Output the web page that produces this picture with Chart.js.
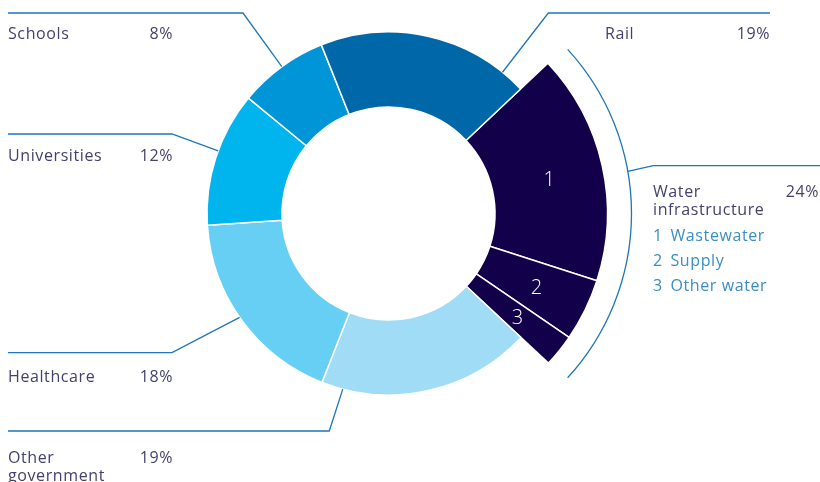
<!DOCTYPE html>
<html>
<head>
<meta charset="utf-8">
<script src="https://cdn.jsdelivr.net/npm/chart.js@4.4.1/dist/chart.umd.min.js"></script>
<style>
  html, body { margin: 0; padding: 0; background: #fff; }
  #wrap { position: relative; width: 820px; height: 482px; }
</style>
</head>
<body>
<div id="wrap"><canvas id="chart" width="820" height="482"></canvas></div>
<script>
// slices, clockwise from the top of the water block
const sectors = ['Wastewater', 'Supply', 'Other water', 'Other government', 'Healthcare', 'Universities', 'Schools', 'Rail'];
const shares = [17, 4.6, 2.4, 19, 18, 12, 8, 19];
const sectorColors = ['#12004a', '#12004a', '#12004a', '#a1dcf7', '#68cff4', '#00b4ee', '#0095d7', '#0068a8'];
const waterSlices = [0, 1, 2];
const waterNumbers = ['1', '2', '3'];

// category labels shown round the ring
const categoryNames = [['Schools'], ['Universities'], ['Healthcare'], ['Other', 'government'], ['Rail'], ['Water', 'infrastructure']];
const categoryPcts = ['8%', '12%', '18%', '19%', '19%', '24%'];
const waterSubLabels = ['Wastewater', 'Supply', 'Other water'];

// layout (px)
const R_OUT = 181.5, R_IN = 106.5, R_WATER = 219, R_BRACKET = 243;
const TEXT = '#433f6e', SUB = '#3a8dc5', LINE = '#1f76b8';
const FONT = '"Open Sans", sans-serif';
// anchor angle (deg from top, clockwise), elbow, line end x, text x, pct right x, text y
const leaders = [
  { ang: 324,   r: R_OUT,     elbow: [243, 13],    endX: 8,   tx: 8,   px: 173, ty: 32 },
  { ang: 290.2, r: R_OUT,     elbow: [172, 134],   endX: 8,   tx: 8,   px: 173, ty: 154 },
  { ang: 235.1, r: R_OUT,     elbow: [172, 352.7], endX: 8,   tx: 8,   px: 173, ty: 375 },
  { ang: 194.6, r: R_OUT,     elbow: [329.3, 431], endX: 8,   tx: 8,   px: 173, ty: 456 },
  { ang: 38.9,  r: R_OUT,     elbow: [548.3, 13],  endX: 770, tx: 605, px: 770, ty: 32 },
  { ang: 80,    r: R_BRACKET, elbow: [653.3, 165.7], endX: 820, tx: 653, px: 819, ty: 190 }
];

const waterExtend = {
  id: 'waterExtend',
  afterDatasetsUpdate(chart) {
    const arcs = chart.getDatasetMeta(0).data;
    waterSlices.forEach(i => { arcs[i].outerRadius = R_WATER; });
  }
};

const annotations = {
  id: 'annotations',
  afterDraw(chart) {
    const ctx = chart.ctx;
    const arcs = chart.getDatasetMeta(0).data;
    const cx = arcs[0].x, cy = arcs[0].y;
    const pt = (deg, r) => {
      const a = (deg - 90) * Math.PI / 180;
      return [cx + r * Math.cos(a), cy + r * Math.sin(a)];
    };
    ctx.save();
    // bracket round the water block
    ctx.strokeStyle = LINE;
    ctx.lineWidth = 1.3;
    ctx.beginPath();
    ctx.arc(cx, cy, R_BRACKET, arcs[waterSlices[0]].startAngle + 0.014, arcs[waterSlices[2]].endAngle - 0.01);
    ctx.stroke();

    // leader lines + labels
    ctx.letterSpacing = '0.6px';
    leaders.forEach((l, i) => {
      const [ax, ay] = pt(l.ang, l.r);
      ctx.beginPath();
      ctx.moveTo(ax, ay);
      ctx.lineTo(l.elbow[0], l.elbow[1]);
      ctx.lineTo(l.endX, l.elbow[1]);
      ctx.stroke();

      ctx.fillStyle = TEXT;
      ctx.font = '16px ' + FONT;
      ctx.textBaseline = 'middle';
      ctx.textAlign = 'left';
      categoryNames[i].forEach((s, k) => ctx.fillText(s, l.tx, l.ty + 2 + k * 18.5));
      ctx.textAlign = 'right';
      ctx.fillText(categoryPcts[i], l.px, l.ty + 2);
    });

    // water breakdown list
    const wl = leaders[5];
    ctx.fillStyle = SUB;
    ctx.textAlign = 'left';
    waterSubLabels.forEach((s, k) => {
      const y = wl.ty + 46 + k * 25.3;
      ctx.fillText(waterNumbers[k], wl.tx, y);
      ctx.fillText(s, wl.tx + 17.5, y);
    });

    // numbers inside the water slices
    ctx.letterSpacing = '0px';
    ctx.fillStyle = '#ffffff';
    ctx.font = '300 20px ' + FONT;
    ctx.textAlign = 'center';
    waterSlices.forEach((i, k) => {
      const p = arcs[i].getCenterPoint();
      ctx.fillText(waterNumbers[k], p.x + 2, p.y + 3);
    });
    ctx.restore();
  }
};

new Chart(document.getElementById('chart'), {
  type: 'doughnut',
  data: {
    labels: sectors,
    datasets: [{
      data: shares,
      backgroundColor: sectorColors,
      borderColor: '#ffffff',
      borderWidth: 1.5
    }]
  },
  options: {
    responsive: false,
    animation: false,
    events: [],
    rotation: 46.7,
    radius: R_OUT,
    cutout: (R_IN / R_OUT * 100) + '%',
    layout: { padding: { left: 0, right: 43, top: 0, bottom: 55 } },
    plugins: { legend: { display: false }, tooltip: { enabled: false } }
  },
  plugins: [waterExtend, annotations]
});
</script>
</body>
</html>
